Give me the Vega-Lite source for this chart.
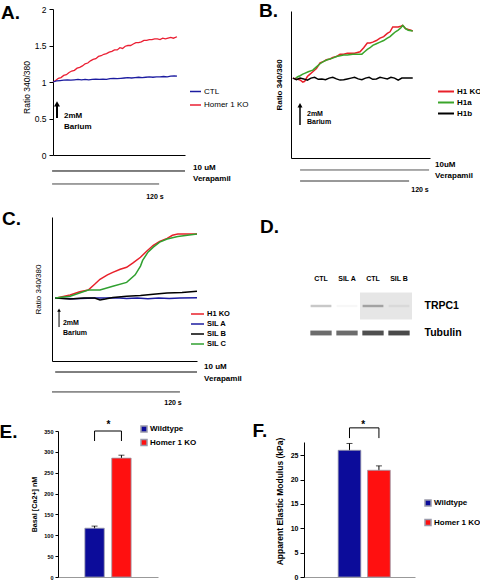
{
"$schema":"https://vega.github.io/schema/vega-lite/v6.json",
"width":480,"height":580,"autosize":{"type":"none"},"padding":0,"background":"white",
"config":{"font":"Liberation Sans","view":{"stroke":null},"mark":{"color":"black"},
 "axis":{"grid":false,"domainColor":"black","tickColor":"black","labelColor":"black","titleColor":"black","labelFont":"Liberation Sans","titleFont":"Liberation Sans"},
 "legend":{"padding":0,"labelColor":"black","labelFont":"Liberation Sans"},
 "text":{"font":"Liberation Sans","color":"black"}},
"datasets":{
 "A_traces":[
  {"series":"Homer 1 KO","t":0,"ratio":1.0},{"series":"Homer 1 KO","t":3,"ratio":1.02},{"series":"Homer 1 KO","t":6,"ratio":1.05},{"series":"Homer 1 KO","t":9,"ratio":1.06},{"series":"Homer 1 KO","t":12,"ratio":1.09},{"series":"Homer 1 KO","t":15,"ratio":1.1},{"series":"Homer 1 KO","t":18,"ratio":1.13},{"series":"Homer 1 KO","t":21,"ratio":1.15},{"series":"Homer 1 KO","t":24,"ratio":1.16},{"series":"Homer 1 KO","t":27,"ratio":1.19},{"series":"Homer 1 KO","t":30,"ratio":1.2},{"series":"Homer 1 KO","t":33,"ratio":1.22},{"series":"Homer 1 KO","t":36,"ratio":1.25},{"series":"Homer 1 KO","t":39,"ratio":1.26},{"series":"Homer 1 KO","t":42,"ratio":1.29},{"series":"Homer 1 KO","t":45,"ratio":1.31},{"series":"Homer 1 KO","t":48,"ratio":1.32},{"series":"Homer 1 KO","t":51,"ratio":1.35},{"series":"Homer 1 KO","t":54,"ratio":1.36},{"series":"Homer 1 KO","t":57,"ratio":1.38},{"series":"Homer 1 KO","t":60,"ratio":1.39},{"series":"Homer 1 KO","t":63,"ratio":1.41},{"series":"Homer 1 KO","t":66,"ratio":1.42},{"series":"Homer 1 KO","t":69,"ratio":1.44},{"series":"Homer 1 KO","t":72,"ratio":1.44},{"series":"Homer 1 KO","t":75,"ratio":1.47},{"series":"Homer 1 KO","t":78,"ratio":1.46},{"series":"Homer 1 KO","t":81,"ratio":1.49},{"series":"Homer 1 KO","t":84,"ratio":1.5},{"series":"Homer 1 KO","t":87,"ratio":1.5},{"series":"Homer 1 KO","t":90,"ratio":1.52},{"series":"Homer 1 KO","t":93,"ratio":1.54},{"series":"Homer 1 KO","t":96,"ratio":1.54},{"series":"Homer 1 KO","t":99,"ratio":1.55},{"series":"Homer 1 KO","t":102,"ratio":1.57},{"series":"Homer 1 KO","t":105,"ratio":1.57},{"series":"Homer 1 KO","t":108,"ratio":1.58},{"series":"Homer 1 KO","t":111,"ratio":1.58},{"series":"Homer 1 KO","t":114,"ratio":1.59},{"series":"Homer 1 KO","t":117,"ratio":1.59},{"series":"Homer 1 KO","t":120,"ratio":1.58},{"series":"Homer 1 KO","t":123,"ratio":1.6},{"series":"Homer 1 KO","t":126,"ratio":1.59},{"series":"Homer 1 KO","t":129,"ratio":1.6},{"series":"Homer 1 KO","t":132,"ratio":1.61},{"series":"Homer 1 KO","t":135,"ratio":1.6},{"series":"Homer 1 KO","t":139,"ratio":1.62},
  {"series":"CTL","t":0,"ratio":1.0},{"series":"CTL","t":4,"ratio":1.015},{"series":"CTL","t":8,"ratio":1.02},{"series":"CTL","t":12,"ratio":1.025},{"series":"CTL","t":16,"ratio":1.03},{"series":"CTL","t":20,"ratio":1.025},{"series":"CTL","t":24,"ratio":1.03},{"series":"CTL","t":28,"ratio":1.035},{"series":"CTL","t":32,"ratio":1.03},{"series":"CTL","t":36,"ratio":1.035},{"series":"CTL","t":40,"ratio":1.03},{"series":"CTL","t":44,"ratio":1.035},{"series":"CTL","t":48,"ratio":1.04},{"series":"CTL","t":52,"ratio":1.035},{"series":"CTL","t":56,"ratio":1.04},{"series":"CTL","t":60,"ratio":1.035},{"series":"CTL","t":64,"ratio":1.045},{"series":"CTL","t":68,"ratio":1.05},{"series":"CTL","t":72,"ratio":1.045},{"series":"CTL","t":76,"ratio":1.05},{"series":"CTL","t":80,"ratio":1.055},{"series":"CTL","t":84,"ratio":1.06},{"series":"CTL","t":88,"ratio":1.055},{"series":"CTL","t":92,"ratio":1.06},{"series":"CTL","t":96,"ratio":1.065},{"series":"CTL","t":100,"ratio":1.06},{"series":"CTL","t":104,"ratio":1.065},{"series":"CTL","t":108,"ratio":1.07},{"series":"CTL","t":112,"ratio":1.065},{"series":"CTL","t":116,"ratio":1.07},{"series":"CTL","t":120,"ratio":1.07},{"series":"CTL","t":124,"ratio":1.075},{"series":"CTL","t":128,"ratio":1.07},{"series":"CTL","t":132,"ratio":1.08},{"series":"CTL","t":136,"ratio":1.085},{"series":"CTL","t":139,"ratio":1.08}
 ],
 "B_traces":[
  {"series":"H1 KO","t":2,"ratio":1.0},{"series":"H1 KO","t":6,"ratio":0.99},{"series":"H1 KO","t":10,"ratio":0.976},{"series":"H1 KO","t":13,"ratio":0.95},{"series":"H1 KO","t":15,"ratio":0.96},{"series":"H1 KO","t":18,"ratio":1.02},{"series":"H1 KO","t":20,"ratio":1.04},{"series":"H1 KO","t":24,"ratio":1.08},{"series":"H1 KO","t":28,"ratio":1.12},{"series":"H1 KO","t":32,"ratio":1.19},{"series":"H1 KO","t":36,"ratio":1.21},{"series":"H1 KO","t":39,"ratio":1.23},{"series":"H1 KO","t":43,"ratio":1.24},{"series":"H1 KO","t":46,"ratio":1.26},{"series":"H1 KO","t":50,"ratio":1.27},{"series":"H1 KO","t":54,"ratio":1.3},{"series":"H1 KO","t":58,"ratio":1.3},{"series":"H1 KO","t":62,"ratio":1.31},{"series":"H1 KO","t":66,"ratio":1.31},{"series":"H1 KO","t":70,"ratio":1.31},{"series":"H1 KO","t":73,"ratio":1.32},{"series":"H1 KO","t":76,"ratio":1.33},{"series":"H1 KO","t":80,"ratio":1.38},{"series":"H1 KO","t":84,"ratio":1.44},{"series":"H1 KO","t":87,"ratio":1.44},{"series":"H1 KO","t":90,"ratio":1.45},{"series":"H1 KO","t":94,"ratio":1.47},{"series":"H1 KO","t":98,"ratio":1.5},{"series":"H1 KO","t":102,"ratio":1.52},{"series":"H1 KO","t":106,"ratio":1.56},{"series":"H1 KO","t":109,"ratio":1.58},{"series":"H1 KO","t":112,"ratio":1.64},{"series":"H1 KO","t":115,"ratio":1.64},{"series":"H1 KO","t":118,"ratio":1.64},{"series":"H1 KO","t":121,"ratio":1.65},{"series":"H1 KO","t":123,"ratio":1.66},{"series":"H1 KO","t":126,"ratio":1.62},{"series":"H1 KO","t":129,"ratio":1.61},{"series":"H1 KO","t":132,"ratio":1.6},{"series":"H1 KO","t":134,"ratio":1.59},
  {"series":"H1a","t":5,"ratio":1.0},{"series":"H1a","t":8,"ratio":1.02},{"series":"H1a","t":10,"ratio":1.03},{"series":"H1a","t":13,"ratio":1.05},{"series":"H1a","t":15,"ratio":1.06},{"series":"H1a","t":19,"ratio":1.08},{"series":"H1a","t":24,"ratio":1.1},{"series":"H1a","t":28,"ratio":1.14},{"series":"H1a","t":32,"ratio":1.18},{"series":"H1a","t":36,"ratio":1.21},{"series":"H1a","t":40,"ratio":1.23},{"series":"H1a","t":46,"ratio":1.25},{"series":"H1a","t":50,"ratio":1.27},{"series":"H1a","t":54,"ratio":1.28},{"series":"H1a","t":58,"ratio":1.29},{"series":"H1a","t":62,"ratio":1.29},{"series":"H1a","t":68,"ratio":1.3},{"series":"H1a","t":73,"ratio":1.3},{"series":"H1a","t":78,"ratio":1.3},{"series":"H1a","t":81,"ratio":1.33},{"series":"H1a","t":84,"ratio":1.36},{"series":"H1a","t":87,"ratio":1.38},{"series":"H1a","t":90,"ratio":1.41},{"series":"H1a","t":94,"ratio":1.43},{"series":"H1a","t":98,"ratio":1.45},{"series":"H1a","t":102,"ratio":1.47},{"series":"H1a","t":106,"ratio":1.5},{"series":"H1a","t":109,"ratio":1.52},{"series":"H1a","t":112,"ratio":1.55},{"series":"H1a","t":115,"ratio":1.58},{"series":"H1a","t":118,"ratio":1.6},{"series":"H1a","t":121,"ratio":1.63},{"series":"H1a","t":123,"ratio":1.66},{"series":"H1a","t":126,"ratio":1.62},{"series":"H1a","t":129,"ratio":1.6},{"series":"H1a","t":134,"ratio":1.59},
  {"series":"H1b","t":2,"ratio":1.0},{"series":"H1b","t":6,"ratio":0.98},{"series":"H1b","t":10,"ratio":1.0},{"series":"H1b","t":14,"ratio":0.99},{"series":"H1b","t":18,"ratio":0.975},{"series":"H1b","t":22,"ratio":1.0},{"series":"H1b","t":26,"ratio":1.01},{"series":"H1b","t":30,"ratio":0.985},{"series":"H1b","t":34,"ratio":0.99},{"series":"H1b","t":38,"ratio":0.98},{"series":"H1b","t":42,"ratio":1.0},{"series":"H1b","t":46,"ratio":1.01},{"series":"H1b","t":50,"ratio":0.99},{"series":"H1b","t":54,"ratio":0.975},{"series":"H1b","t":58,"ratio":0.98},{"series":"H1b","t":62,"ratio":0.99},{"series":"H1b","t":66,"ratio":1.0},{"series":"H1b","t":70,"ratio":1.01},{"series":"H1b","t":74,"ratio":0.99},{"series":"H1b","t":78,"ratio":0.98},{"series":"H1b","t":82,"ratio":1.0},{"series":"H1b","t":86,"ratio":1.01},{"series":"H1b","t":90,"ratio":0.985},{"series":"H1b","t":94,"ratio":0.99},{"series":"H1b","t":98,"ratio":1.01},{"series":"H1b","t":102,"ratio":1.0},{"series":"H1b","t":106,"ratio":0.99},{"series":"H1b","t":110,"ratio":1.01},{"series":"H1b","t":114,"ratio":1.0},{"series":"H1b","t":118,"ratio":0.975},{"series":"H1b","t":122,"ratio":1.0},{"series":"H1b","t":126,"ratio":1.0},{"series":"H1b","t":134,"ratio":1.0}
 ],
 "C_traces":[
  {"series":"H1 KO","t":3,"ratio":1.0},{"series":"H1 KO","t":17,"ratio":1.05},{"series":"H1 KO","t":26,"ratio":1.1},{"series":"H1 KO","t":34,"ratio":1.13},{"series":"H1 KO","t":40,"ratio":1.22},{"series":"H1 KO","t":45,"ratio":1.3},{"series":"H1 KO","t":52,"ratio":1.37},{"series":"H1 KO","t":57,"ratio":1.41},{"series":"H1 KO","t":64,"ratio":1.46},{"series":"H1 KO","t":70,"ratio":1.49},{"series":"H1 KO","t":76,"ratio":1.56},{"series":"H1 KO","t":83,"ratio":1.65},{"series":"H1 KO","t":89,"ratio":1.75},{"series":"H1 KO","t":95,"ratio":1.84},{"series":"H1 KO","t":101,"ratio":1.9},{"series":"H1 KO","t":108,"ratio":1.95},{"series":"H1 KO","t":113,"ratio":2.0},{"series":"H1 KO","t":118,"ratio":2.02},{"series":"H1 KO","t":136,"ratio":2.02},
  {"series":"SIL A","t":3,"ratio":1.0},{"series":"SIL A","t":20,"ratio":0.99},{"series":"SIL A","t":40,"ratio":1.0},{"series":"SIL A","t":50,"ratio":1.0},{"series":"SIL A","t":60,"ratio":1.005},{"series":"SIL A","t":70,"ratio":0.995},{"series":"SIL A","t":80,"ratio":1.0},{"series":"SIL A","t":90,"ratio":0.99},{"series":"SIL A","t":100,"ratio":1.0},{"series":"SIL A","t":110,"ratio":0.995},{"series":"SIL A","t":120,"ratio":1.0},{"series":"SIL A","t":136,"ratio":1.005},
  {"series":"SIL B","t":3,"ratio":1.0},{"series":"SIL B","t":17,"ratio":0.985},{"series":"SIL B","t":30,"ratio":1.0},{"series":"SIL B","t":40,"ratio":1.0},{"series":"SIL B","t":45,"ratio":0.97},{"series":"SIL B","t":50,"ratio":0.985},{"series":"SIL B","t":57,"ratio":1.01},{"series":"SIL B","t":70,"ratio":1.03},{"series":"SIL B","t":83,"ratio":1.04},{"series":"SIL B","t":95,"ratio":1.06},{"series":"SIL B","t":108,"ratio":1.08},{"series":"SIL B","t":122,"ratio":1.09},{"series":"SIL B","t":136,"ratio":1.11},
  {"series":"SIL C","t":3,"ratio":1.0},{"series":"SIL C","t":17,"ratio":1.03},{"series":"SIL C","t":34,"ratio":1.13},{"series":"SIL C","t":45,"ratio":1.13},{"series":"SIL C","t":57,"ratio":1.19},{"series":"SIL C","t":70,"ratio":1.25},{"series":"SIL C","t":78,"ratio":1.37},{"series":"SIL C","t":83,"ratio":1.51},{"series":"SIL C","t":85,"ratio":1.6},{"series":"SIL C","t":90,"ratio":1.73},{"series":"SIL C","t":95,"ratio":1.81},{"series":"SIL C","t":101,"ratio":1.89},{"series":"SIL C","t":108,"ratio":1.94},{"series":"SIL C","t":118,"ratio":1.98},{"series":"SIL C","t":136,"ratio":2.02}
 ],
 "D_bands":[
  {"lane":"L1","sample":"CTL","protein":"TRPC1","intensity":0.22},{"lane":"L2","sample":"SIL A","protein":"TRPC1","intensity":0.03},{"lane":"L3","sample":"CTL","protein":"TRPC1","intensity":0.38},{"lane":"L4","sample":"SIL B","protein":"TRPC1","intensity":0.15},
  {"lane":"L1","sample":"CTL","protein":"Tubulin","intensity":0.62},{"lane":"L2","sample":"SIL A","protein":"Tubulin","intensity":0.62},{"lane":"L3","sample":"CTL","protein":"Tubulin","intensity":0.75},{"lane":"L4","sample":"SIL B","protein":"Tubulin","intensity":0.78}
 ],
 "D_film":[{"lane":"L3","protein":"TRPC1"},{"lane":"L4","protein":"TRPC1"}],
 "E_bars":[{"group":"Wildtype","mean":117,"sem":5},{"group":"Homer 1 KO","mean":285,"sem":7}],
 "F_bars":[{"group":"Wildtype","mean":26.0,"sem":1.4},{"group":"Homer 1 KO","mean":21.9,"sem":0.9}]
},
"layer":[
 {"layer":[
  {"data":{"name":"A_traces"},"mark":{"type":"line","strokeWidth":1.3},
   "encoding":{
    "x":{"field":"t","type":"quantitative","scale":{"domain":[0,148],"range":[53,185],"nice":false,"zero":false},"axis":{"orient":"bottom","offset":-425,"labels":false,"ticks":false,"tickSize":0,"title":null}},
    "y":{"field":"ratio","type":"quantitative","scale":{"domain":[0,2],"range":[155,9],"nice":false},"axis":{"orient":"left","offset":-53,"values":[0,0.5,1,1.5,2],"format":"~g","tickSize":4,"labelPadding":3,"labelFontSize":8.5,"title":"Ratio 340/380","titleFontSize":8.5,"titleFontWeight":"normal","titleX":-22,"titleY":87}},
    "color":{"field":"series","type":"nominal","scale":{"domain":["CTL","Homer 1 KO"],"range":["#1c1ca0","#ea1f33"]},"legend":{"orient":"none","legendX":189,"legendY":85,"title":null,"symbolType":"stroke","symbolSize":121,"symbolStrokeWidth":1.5,"labelFontSize":8,"labelOffset":2,"rowPadding":2.5}}}},
  {"data":{"values":[{}]},"mark":{"type":"rule","color":"black","strokeWidth":1},"encoding":{"x":{"datum":-1,"type":"quantitative"},"x2":{"datum":148},"y":{"datum":-0.219,"type":"quantitative"}}},
  {"data":{"values":[{}]},"mark":{"type":"rule","color":"#444","strokeWidth":1},"encoding":{"x":{"datum":-1,"type":"quantitative"},"x2":{"datum":119},"y":{"datum":-0.397,"type":"quantitative"}}},
  {"data":{"values":[{}]},"mark":{"type":"rule","color":"black","strokeWidth":2},"encoding":{"x":{"datum":4.5,"type":"quantitative"},"y":{"datum":0.507,"type":"quantitative"},"y2":{"datum":0.69}}},
  {"data":{"values":[{}]},"mark":{"type":"point","shape":"triangle-up","filled":true,"color":"black","opacity":1,"size":35},"encoding":{"x":{"datum":4.5,"type":"quantitative"},"y":{"datum":0.7,"type":"quantitative"}}},
  {"data":{"values":[{}]},"mark":{"type":"text","color":"black","text":["2mM","Barium"],"align":"left","baseline":"top","fontSize":8,"fontWeight":"bold","lineHeight":11},"encoding":{"x":{"datum":12.3,"type":"quantitative"},"y":{"datum":0.589,"type":"quantitative"}}},
  {"data":{"values":[{}]},"mark":{"type":"text","color":"black","text":["10 uM","Verapamil"],"align":"left","baseline":"top","fontSize":8,"fontWeight":"bold","lineHeight":11.5},"encoding":{"x":{"datum":157,"type":"quantitative"},"y":{"datum":-0.123,"type":"quantitative"}}},
  {"data":{"values":[{}]},"mark":{"type":"text","color":"black","text":"120 s","align":"center","baseline":"middle","fontSize":7,"fontWeight":"bold"},"encoding":{"x":{"datum":114.3,"type":"quantitative"},"y":{"datum":-0.575,"type":"quantitative"}}},
  {"data":{"values":[{}]},"mark":{"type":"text","color":"black","text":"A.","align":"left","baseline":"alphabetic","fontSize":19,"fontWeight":"bold"},"encoding":{"x":{"datum":-58.3,"type":"quantitative"},"y":{"datum":1.863,"type":"quantitative"}}}
 ]},
 {"layer":[
  {"data":{"name":"B_traces"},"mark":{"type":"line","strokeWidth":1.5},
   "encoding":{
    "x":{"field":"t","type":"quantitative","scale":{"domain":[0,153],"range":[291,430],"nice":false,"zero":false},"axis":{"orient":"bottom","offset":-422,"labels":false,"ticks":false,"tickSize":0,"title":null}},
    "y":{"field":"ratio","type":"quantitative","scale":{"domain":[0,1.84],"range":[158,11],"nice":false},"axis":{"orient":"left","offset":-291,"labels":false,"ticks":false,"tickSize":0,"title":"Ratio 340/380","titleFontSize":8,"titleFontWeight":"bold","titlePadding":8}},
    "color":{"field":"series","type":"nominal","scale":{"domain":["H1 KO","H1a","H1b"],"range":["#e8202a","#3aa52a","#000000"]},"legend":{"orient":"none","legendX":439.5,"legendY":85,"title":null,"symbolType":"M-1.45,0H1.45","symbolSize":121,"symbolStrokeWidth":2,"labelFontSize":8,"labelFontWeight":"bold","labelOffset":4.5,"rowPadding":0}}}},
  {"data":{"values":[{}]},"mark":{"type":"rule","color":"#555","strokeWidth":1},"encoding":{"x":{"datum":10,"type":"quantitative"},"x2":{"datum":152},"y":{"datum":-0.15,"type":"quantitative"}}},
  {"data":{"values":[{}]},"mark":{"type":"rule","color":"#333","strokeWidth":1},"encoding":{"x":{"datum":10,"type":"quantitative"},"x2":{"datum":130},"y":{"datum":-0.288,"type":"quantitative"}}},
  {"data":{"values":[{}]},"mark":{"type":"rule","color":"black","strokeWidth":1.5},"encoding":{"x":{"datum":9.9,"type":"quantitative"},"y":{"datum":0.413,"type":"quantitative"},"y2":{"datum":0.64}}},
  {"data":{"values":[{}]},"mark":{"type":"point","shape":"triangle-up","filled":true,"color":"black","opacity":1,"size":25},"encoding":{"x":{"datum":9.9,"type":"quantitative"},"y":{"datum":0.66,"type":"quantitative"}}},
  {"data":{"values":[{}]},"mark":{"type":"text","color":"black","text":["2mM","Barium"],"align":"left","baseline":"top","fontSize":7,"fontWeight":"bold","lineHeight":8.5},"encoding":{"x":{"datum":17.6,"type":"quantitative"},"y":{"datum":0.607,"type":"quantitative"}}},
  {"data":{"values":[{}]},"mark":{"type":"text","color":"black","text":["10uM","Verapamil"],"align":"left","baseline":"top","fontSize":8,"fontWeight":"bold","lineHeight":11},"encoding":{"x":{"datum":158.6,"type":"quantitative"},"y":{"datum":-0.04,"type":"quantitative"}}},
  {"data":{"values":[{}]},"mark":{"type":"text","color":"black","text":"120 s","align":"center","baseline":"middle","fontSize":7,"fontWeight":"bold"},"encoding":{"x":{"datum":142,"type":"quantitative"},"y":{"datum":-0.4,"type":"quantitative"}}},
  {"data":{"values":[{}]},"mark":{"type":"text","color":"black","text":"B.","align":"left","baseline":"alphabetic","fontSize":19,"fontWeight":"bold"},"encoding":{"x":{"datum":-35.2,"type":"quantitative"},"y":{"datum":1.765,"type":"quantitative"}}}
 ]},
 {"layer":[
  {"data":{"name":"C_traces"},"mark":{"type":"line","strokeWidth":1.5},
   "encoding":{
    "x":{"field":"t","type":"quantitative","scale":{"domain":[0,136],"range":[52,197],"nice":false,"zero":false},"axis":{"orient":"bottom","offset":-219,"labels":false,"ticks":false,"tickSize":0,"title":null}},
    "y":{"field":"ratio","type":"quantitative","scale":{"domain":[0,2.29],"range":[361,217],"nice":false},"axis":{"orient":"left","offset":-52,"labels":false,"ticks":false,"tickSize":0,"title":"Ratio 340/380","titleFontSize":8,"titleFontWeight":"normal","titlePadding":10}},
    "color":{"field":"series","type":"nominal","scale":{"domain":["H1 KO","SIL A","SIL B","SIL C"],"range":["#e8202a","#1c1ca0","#000000","#30a030"]},"legend":{"orient":"none","legendX":191,"legendY":307.5,"title":null,"symbolType":"M-1.18,0H1.18","symbolSize":121,"symbolStrokeWidth":1.5,"labelFontSize":7.5,"labelFontWeight":"bold","labelOffset":3,"rowPadding":0}}}},
  {"data":{"values":[{}]},"mark":{"type":"rule","color":"black","strokeWidth":1},"encoding":{"x":{"datum":3,"type":"quantitative"},"x2":{"datum":136},"y":{"datum":-0.175,"type":"quantitative"}}},
  {"data":{"values":[{}]},"mark":{"type":"rule","color":"#333","strokeWidth":1},"encoding":{"x":{"datum":0,"type":"quantitative"},"x2":{"datum":120},"y":{"datum":-0.492,"type":"quantitative"}}},
  {"data":{"values":[{}]},"mark":{"type":"rule","color":"black","strokeWidth":1},"encoding":{"x":{"datum":6.6,"type":"quantitative"},"y":{"datum":0.54,"type":"quantitative"},"y2":{"datum":0.8}}},
  {"data":{"values":[{}]},"mark":{"type":"point","shape":"triangle-up","filled":true,"color":"black","opacity":1,"size":14},"encoding":{"x":{"datum":6.6,"type":"quantitative"},"y":{"datum":0.81,"type":"quantitative"}}},
  {"data":{"values":[{}]},"mark":{"type":"text","color":"black","text":["2mM","Barium"],"align":"left","baseline":"top","fontSize":7,"fontWeight":"bold","lineHeight":10},"encoding":{"x":{"datum":10.3,"type":"quantitative"},"y":{"datum":0.675,"type":"quantitative"}}},
  {"data":{"values":[{}]},"mark":{"type":"text","color":"black","text":["10 uM","Verapamil"],"align":"left","baseline":"top","fontSize":8,"fontWeight":"bold","lineHeight":12},"encoding":{"x":{"datum":142.6,"type":"quantitative"},"y":{"datum":-0.032,"type":"quantitative"}}},
  {"data":{"values":[{}]},"mark":{"type":"text","color":"black","text":"120 s","align":"center","baseline":"middle","fontSize":7,"fontWeight":"bold"},"encoding":{"x":{"datum":113.5,"type":"quantitative"},"y":{"datum":-0.667,"type":"quantitative"}}},
  {"data":{"values":[{}]},"mark":{"type":"text","color":"black","text":"C.","align":"left","baseline":"alphabetic","fontSize":19,"fontWeight":"bold"},"encoding":{"x":{"datum":-46.9,"type":"quantitative"},"y":{"datum":2.16,"type":"quantitative"}}}
 ]},
 {"layer":[
  {"data":{"name":"D_film"},"mark":{"type":"bar","color":"#e6e6e6","width":{"band":1},"height":{"band":1}},
   "encoding":{
    "x":{"field":"lane","type":"nominal","scale":{"type":"band","domain":["L1","L2","L3","L4"],"range":[308,412],"paddingInner":0,"paddingOuter":0},"axis":{"orient":"top","offset":-282,"ticks":false,"tickSize":0,"domain":false,"labelPadding":1,"labelFontSize":7,"labelFontWeight":"bold","labelAngle":0,"title":null,"labelExpr":"datum.value == 'L2' ? 'SIL A' : datum.value == 'L4' ? 'SIL B' : 'CTL'"}},
    "y":{"field":"protein","type":"nominal","scale":{"type":"band","domain":["TRPC1","Tubulin"],"range":[292.5,346.5],"paddingInner":0,"paddingOuter":0},"axis":{"orient":"right","offset":-60,"ticks":false,"tickSize":0,"domain":false,"labelPadding":4,"labelFontSize":10.5,"labelFontWeight":"bold","title":null}}}},
  {"data":{"name":"D_bands"},"transform":[{"filter":"datum.protein == 'TRPC1'"}],"mark":{"type":"bar","width":{"band":0.8},"height":{"band":0.09}},
   "encoding":{
    "x":{"field":"lane","type":"nominal","scale":{"type":"band","domain":["L1","L2","L3","L4"],"range":[308,412],"paddingInner":0,"paddingOuter":0}},
    "y":{"field":"protein","type":"nominal","scale":{"type":"band","domain":["TRPC1","Tubulin"],"range":[292.5,346.5],"paddingInner":0,"paddingOuter":0}},
    "color":{"field":"intensity","type":"quantitative","scale":{"domain":[0,1],"range":["#ffffff","#202020"]},"legend":null}}},
  {"data":{"name":"D_bands"},"transform":[{"filter":"datum.protein == 'Tubulin'"}],"mark":{"type":"bar","width":{"band":0.82},"height":{"band":0.18}},
   "encoding":{
    "x":{"field":"lane","type":"nominal"},
    "y":{"field":"protein","type":"nominal"},
    "color":{"field":"intensity","type":"quantitative","legend":null}}},
  {"data":{"values":[{}]},"mark":{"type":"text","color":"black","text":"D.","align":"left","baseline":"alphabetic","fontSize":19,"fontWeight":"bold","dx":-61,"dy":-73},"encoding":{"x":{"datum":"L1","type":"nominal"},"y":{"datum":"TRPC1","type":"nominal"}}}
 ]},
 {"layer":[
  {"data":{"name":"E_bars"},"mark":{"type":"errorbar","ticks":{"size":6,"color":"black"},"rule":{"color":"black"}},
   "encoding":{"x":{"field":"group","type":"nominal","title":null},"y":{"field":"mean","type":"quantitative","title":"Basal [Ca2+] nM"},"yError":{"field":"sem"}}},
  {"data":{"name":"E_bars"},"mark":{"type":"bar","stroke":"#9a9aaa","strokeWidth":0.8},
   "encoding":{
    "x":{"field":"group","type":"nominal","sort":null,"scale":{"type":"band","domain":["Wildtype","Homer 1 KO"],"range":[58,158],"paddingInner":0.28,"paddingOuter":1.16},"axis":{"orient":"bottom","offset":-3,"labels":false,"ticks":false,"tickSize":0,"title":null,"domainColor":"#999"}},
    "y":{"field":"mean","type":"quantitative","title":"Basal [Ca2+] nM","scale":{"domain":[0,350],"range":[577,431],"nice":false},"axis":{"orient":"left","offset":-58,"values":[0,50,100,150,200,250,300,350],"tickSize":3,"labelPadding":2,"labelFontSize":5.5,"labelFontWeight":"bold","title":"Basal [Ca2+] nM","titleFontSize":7.2,"titleFontWeight":"bold","titlePadding":5}},
    "color":{"field":"group","type":"nominal","scale":{"domain":["Wildtype","Homer 1 KO"],"range":["#0c0c9a","#ff1010"]},"legend":{"orient":"none","legendX":140,"legendY":425,"title":null,"symbolType":"square","symbolSize":36,"labelFontSize":8,"labelFontWeight":"bold","labelOffset":2,"rowPadding":1.5}}}},
  {"data":{"values":[{}]},"mark":{"type":"rule","color":"black","strokeWidth":1},"encoding":{"x":{"datum":"Wildtype","type":"nominal"},"y":{"datum":326,"type":"quantitative"},"y2":{"datum":350}}},
  {"data":{"values":[{}]},"mark":{"type":"rule","color":"black","strokeWidth":1},"encoding":{"x":{"datum":"Homer 1 KO","type":"nominal"},"y":{"datum":326,"type":"quantitative"},"y2":{"datum":350}}},
  {"data":{"values":[{}]},"mark":{"type":"rule","color":"black","strokeWidth":1},"encoding":{"x":{"datum":"Wildtype","type":"nominal","bandPosition":0.5},"x2":{"datum":"Homer 1 KO","bandPosition":0.5},"y":{"datum":350,"type":"quantitative"}}},
  {"data":{"values":[{}]},"mark":{"type":"text","color":"black","text":"*","align":"center","baseline":"top","fontSize":10,"fontWeight":"bold"},"encoding":{"x":{"datum":"Wildtype","type":"nominal","bandPosition":1.22},"y":{"datum":376,"type":"quantitative"}}},
  {"data":{"values":[{}]},"mark":{"type":"text","color":"black","text":"E.","align":"left","baseline":"alphabetic","fontSize":19,"fontWeight":"bold","dx":-95},"encoding":{"x":{"datum":"Wildtype","type":"nominal"},"y":{"datum":333,"type":"quantitative"}}}
 ]},
 {"layer":[
  {"data":{"name":"F_bars"},"mark":{"type":"errorbar","ticks":{"size":6,"color":"black"},"rule":{"color":"black"}},
   "encoding":{"x":{"field":"group","type":"nominal","title":null},"y":{"field":"mean","type":"quantitative","title":"Apparent Elastic Modulus (kPa)"},"yError":{"field":"sem"}}},
  {"data":{"name":"F_bars"},"mark":{"type":"bar","stroke":"#9a9aaa","strokeWidth":0.8},
   "encoding":{
    "x":{"field":"group","type":"nominal","sort":null,"scale":{"type":"band","domain":["Wildtype","Homer 1 KO"],"range":[304,415],"paddingInner":0.23,"paddingOuter":1.64,"align":0.58},"axis":{"orient":"bottom","offset":-3,"labels":false,"ticks":false,"tickSize":0,"title":null,"domainColor":"#999"}},
    "y":{"field":"mean","type":"quantitative","title":"Apparent Elastic Modulus (kPa)","scale":{"domain":[0,27.7],"range":[577,442],"nice":false},"axis":{"orient":"left","offset":-304,"values":[0,5,10,15,20,25],"tickSize":4,"labelPadding":2,"labelFontSize":7,"labelFontWeight":"bold","title":"Apparent Elastic Modulus (kPa)","titleFontSize":8.5,"titleFontWeight":"bold","titleX":-20,"titleY":501}},
    "color":{"field":"group","type":"nominal","scale":{"domain":["Wildtype","Homer 1 KO"],"range":["#0c0c9a","#ff1010"]},"legend":{"orient":"none","legendX":424,"legendY":499,"title":null,"symbolType":"square","symbolSize":36,"labelFontSize":8,"labelFontWeight":"bold","labelOffset":2,"rowPadding":7.5}}}},
  {"data":{"values":[{}]},"mark":{"type":"rule","color":"black","strokeWidth":1},"encoding":{"x":{"datum":"Wildtype","type":"nominal"},"y":{"datum":28.5,"type":"quantitative"},"y2":{"datum":30.6}}},
  {"data":{"values":[{}]},"mark":{"type":"rule","color":"black","strokeWidth":1},"encoding":{"x":{"datum":"Homer 1 KO","type":"nominal"},"y":{"datum":28.5,"type":"quantitative"},"y2":{"datum":30.6}}},
  {"data":{"values":[{}]},"mark":{"type":"rule","color":"black","strokeWidth":1},"encoding":{"x":{"datum":"Wildtype","type":"nominal","bandPosition":0.5},"x2":{"datum":"Homer 1 KO","bandPosition":0.5},"y":{"datum":30.6,"type":"quantitative"}}},
  {"data":{"values":[{}]},"mark":{"type":"text","color":"black","text":"*","align":"center","baseline":"top","fontSize":10,"fontWeight":"bold"},"encoding":{"x":{"datum":"Wildtype","type":"nominal","bandPosition":1.1},"y":{"datum":32.2,"type":"quantitative"}}},
  {"data":{"values":[{}]},"mark":{"type":"text","color":"black","text":"F.","align":"left","baseline":"alphabetic","fontSize":19,"fontWeight":"bold","dx":-97},"encoding":{"x":{"datum":"Wildtype","type":"nominal"},"y":{"datum":28.7,"type":"quantitative"}}}
 ]}
],
"resolve":{"scale":{"x":"independent","y":"independent","color":"independent"}}
}
